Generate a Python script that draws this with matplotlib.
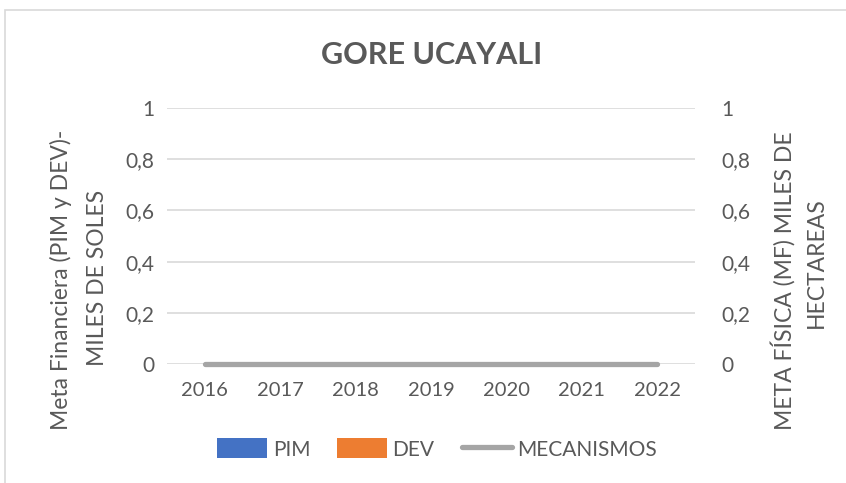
import numpy as np
import matplotlib.pyplot as plt
from matplotlib.patches import Rectangle

"""Datos"""
years = ["2016", "2017", "2018", "2019", "2020", "2021", "2022"]
pim = [0, 0, 0, 0, 0, 0, 0]
dev = [0, 0, 0, 0, 0, 0, 0]
mecanismos = [0, 0, 0, 0, 0, 0, 0]
yticks = [0, 0.2, 0.4, 0.6, 0.8, 1]
ytickLabels = ["0", "0,2", "0,4", "0,6", "0,8", "1"]

textColor = "#595959"
plt.rcParams['font.family'] = ['Lato', 'DejaVu Sans']

W, H = 846, 483
fig = plt.figure(figsize=(W / 100, H / 100), dpi=100)

# marco del grafico
fig.patches.append(Rectangle((5 / W, -0.1), 1.2, 1 - 10 / H + 0.1, transform=fig.transFigure,
                             fill=False, edgecolor="#D9D9D9", linewidth=1.2))

ax = fig.add_axes([167 / W, 1 - 364 / H, (695 - 167) / W, (364 - 108) / H])
x = np.arange(len(years))
ax.bar(x - 0.2, pim, 0.35, color="#4472C4", label="PIM")
ax.bar(x + 0.2, dev, 0.35, color="#ED7D31", label="DEV")

ax2 = ax.twinx()
ax2.plot(x, mecanismos, color="#A5A5A5", linewidth=3.8, solid_capstyle="round",
         label="MECANISMOS", clip_on=False)

for a in (ax, ax2):
    a.set_ylim(0, 1)
    a.set_yticks(yticks)
    a.set_yticklabels(ytickLabels)
    for s in a.spines.values():
        s.set_visible(False)
    a.tick_params(axis="y", length=0, labelsize=15, colors=textColor)
ax.tick_params(axis="y", pad=9)
ax2.tick_params(axis="y", pad=19)
ax.set_xlim(-0.5, len(years) - 0.5)
ax.set_xticks(x)
ax.set_xticklabels(years)
ax.tick_params(axis="x", length=0, labelsize=14.5, colors=textColor, pad=13)
ax.yaxis.grid(True, color="#D9D9D9", linewidth=1.2)
ax.set_axisbelow(True)

fig.text(432 / W, 1 - 55 / H, "GORE UCAYALI", ha="center", va="center",
         fontsize=22, fontweight="bold", color=textColor)

# titulos de ejes (dos lineas cada uno)
fig.text(61 / W, 1 - 280 / H, "Meta Financiera (PIM y DEV)-", rotation=90,
         ha="center", va="center", fontsize=16.5, color=textColor)
fig.text(97 / W, 1 - 278 / H, "MILES DE SOLES", rotation=90,
         ha="center", va="center", fontsize=16.5, color=textColor)
fig.text(783 / W, 1 - 281 / H, "META FÍSICA (MF) MILES DE", rotation=90,
         ha="center", va="center", fontsize=16.5, color=textColor)
fig.text(816 / W, 1 - 263 / H, "HECTAREAS", rotation=90,
         ha="center", va="center", fontsize=16.5, color=textColor)

h1, l1 = ax.get_legend_handles_labels()
h2, l2 = ax2.get_legend_handles_labels()
fig.legend(h1 + h2, l1 + l2, loc="center", bbox_to_anchor=(437 / W, 1 - 449 / H),
           ncol=3, frameon=False, fontsize=15, labelcolor=textColor,
           handlelength=2.4, handleheight=1.1, handletextpad=0.25, columnspacing=1.3)

fig.savefig("out.png", dpi=100)
